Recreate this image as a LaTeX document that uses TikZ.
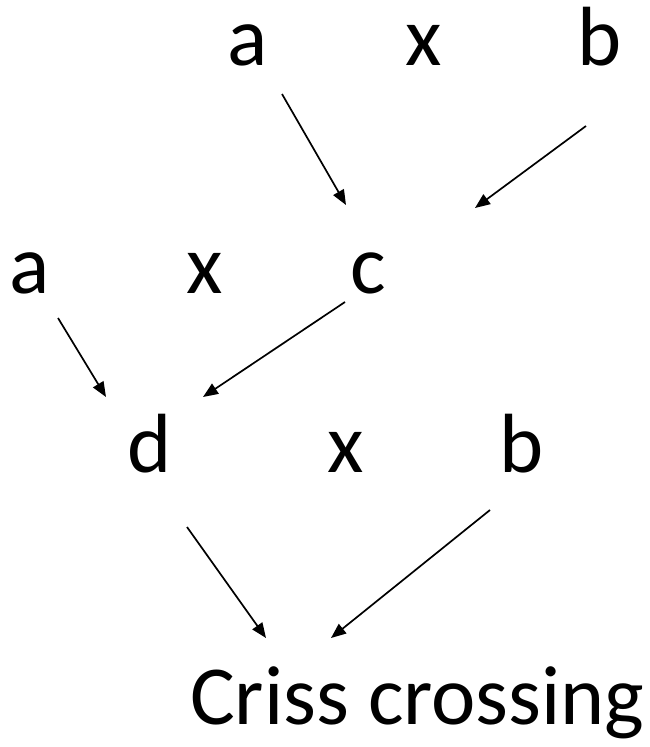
\documentclass[tikz,border=0pt]{standalone}
\usepackage{fontspec}
\setmainfont{Carlito}
\usepackage{tikz}
\usetikzlibrary{arrows.meta}

\begin{document}
\begin{tikzpicture}[
  x=1pt,y=-1pt,
  w/.style={anchor=base,inner sep=0pt,font=\fontsize{84}{84}\selectfont},
  ar/.style={-{Triangle[length=15pt,width=12pt]},line width=1.7pt}
]
\useasboundingbox (0,0) rectangle (650,747);
% top row
\node[w] (a1) at (248,65) {a};
\node[w] (x1) at (424,65) {x};
\node[w] (b1) at (600,65) {b};
% middle row
\node[w] (a2) at (30,293) {a};
\node[w] (x2) at (205,293) {x};
\node[w] (c2) at (368,293) {c};
% bottom row
\node[w] (d3) at (150,472) {d};
\node[w] (x3) at (346,472) {x};
\node[w] (b3) at (522,472) {b};
\node[w,anchor=base west] (cc) at (190,724) {Criss crossing};
\draw[ar] ([shift={(34,29)}]a1.base) -- ([shift={(-22,-88)}]c2.base);
\draw[ar] ([shift={(-14,61)}]b1.base) -- ([shift={(107,-85)}]c2.base);
\draw[ar] ([shift={(28,25)}]a2.base) -- ([shift={(-44,-75)}]d3.base);
\draw[ar] ([shift={(-23,9)}]c2.base) -- ([shift={(53,-75)}]d3.base);
\draw[ar] ([shift={(37,55)}]d3.base) -- ([shift={(76,-86)}]cc.base west);
\draw[ar] ([shift={(-32,38)}]b3.base) -- ([shift={(141,-86)}]cc.base west);
\end{tikzpicture}
\end{document}
